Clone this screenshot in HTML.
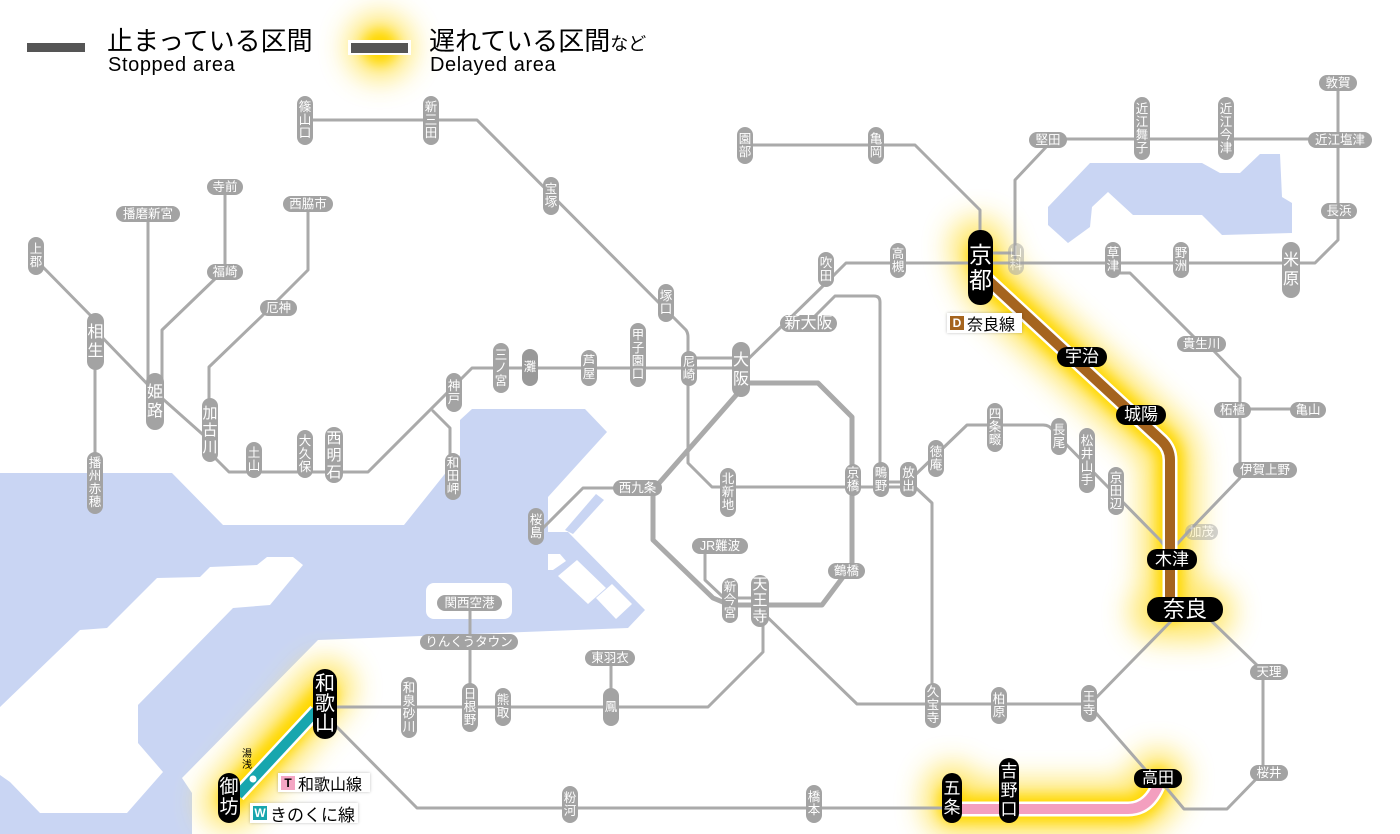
<!DOCTYPE html>
<html><head><meta charset="utf-8">
<style>
html,body{margin:0;padding:0;background:#fff;}
#w{position:relative;width:1400px;height:834px;overflow:hidden;background:#fff;font-family:"Liberation Sans","Noto Sans CJK JP",sans-serif;}
svg{position:absolute;left:0;top:0;}
.s{position:absolute;display:flex;align-items:center;justify-content:center;text-align:center;color:#fff;background:#a3a3a3;border-radius:8px;font-size:12.5px;line-height:13px;white-space:nowrap;}
.B{font-size:16px;line-height:19px;border-radius:9px;}
.k{position:absolute;display:flex;align-items:center;justify-content:center;text-align:center;color:#fff;background:#000;border-radius:11px;white-space:nowrap;}
.f{opacity:.5;}
.t{position:absolute;white-space:nowrap;color:#000;}
.lg{position:absolute;background:#fff;box-shadow:0 0 3px rgba(0,0,0,.25);display:flex;align-items:center;white-space:nowrap;color:#000;}
.sq{display:inline-flex;align-items:center;justify-content:center;width:14px;height:14px;font-size:12px;font-weight:bold;margin:0 3px 0 3px;}
</style></head><body><div id="w">
<svg width="1400" height="834" viewBox="0 0 1400 834">
<defs>
<filter id="bl" filterUnits="userSpaceOnUse" x="0" y="0" width="1400" height="834"><feGaussianBlur stdDeviation="14"/></filter>
<filter id="bl2" filterUnits="userSpaceOnUse" x="0" y="0" width="1400" height="834"><feGaussianBlur stdDeviation="6"/></filter>
</defs>
<!-- sea -->
<path d="M0,473 H172 L223,525 H404 L460,455 V420 L472,409 H585 L607,432 L548,497 V532 H568 L645,610 L628,628 L318,640 L182,778 L192,793 V834 H0 Z" fill="#c9d5f3"/>
<path d="M0,707 L80,630 L107,628 L157,578 L200,577 L210,567 L257,565 L267,557 L293,557 L303,565 L270,605 L233,608 L138,705 V743 L163,772 L127,813 H40 L10,782 L0,775 Z" fill="#fff"/>
<rect x="426" y="583" width="86" height="36" rx="8" fill="#fff"/>
<path d="M596,494 L604,500 L573,534 L565,530 Z" fill="#c9d5f3"/>
<path d="M548,554 L560,554 L566,561 L553,570 L548,570 Z" fill="#fff"/>
<path d="M558,576 L577,560 L606,588 L588,604 Z" fill="#fff"/>
<path d="M596,598 L612,584 L632,604 L616,619 Z" fill="#fff"/>
<!-- lake biwa -->
<path d="M1090,163 L1202,163 L1220,173 L1240,173 L1260,154 L1280,154 L1282,197 L1292,203 L1292,233 L1222,235 L1202,215 L1133,215 L1108,192 L1092,207 L1090,227 L1068,243 L1048,225 L1048,207 Z" fill="#c9d5f3"/>
<!-- glow outer -->
<g filter="url(#bl)" fill="none" stroke="#ffe45a" stroke-linecap="round" stroke-linejoin="round" stroke-width="56" opacity="0.9">
<path d="M978,246 L990,282 L1162,441 Q1170,449 1170,460 V612"/>
<path d="M1158,612 H1205"/>
<path d="M326,688 L230,802"/>
<path d="M952,792 V809 H1128 Q1148,809 1158,778"/>
<circle cx="380" cy="47" r="16" fill="#ffe45a" stroke-width="34"/>
</g>
<!-- glow core -->
<g filter="url(#bl2)" fill="none" stroke="#ffd800" stroke-linecap="round" stroke-linejoin="round" stroke-width="26">
<path d="M980,255 L990,282 L1162,441 Q1170,449 1170,460 V610"/>
<path d="M324,695 L232,798"/>
<path d="M952,798 V809 H1128 Q1148,809 1158,780"/>
<circle cx="380" cy="47" r="12" fill="#ffd800" stroke-width="10"/>
</g>
<!-- grey lines -->
<g stroke="#aaa" stroke-width="3" fill="none" stroke-linejoin="round" stroke-linecap="round">
<path d="M305,120 H477 L686,330 Q688,333 688,337 V463 L712,487 H915 L932,503 V705"/>
<path d="M36,260 L95,320"/>
<path d="M95,330 L155,392 L209,440 V452 L229,472 H368 L462,378 L472,368 H741"/>
<path d="M433,411 L450,428 V478"/>
<path d="M95,342 V485"/>
<path d="M148,214 V400"/>
<path d="M225,186 V271"/>
<path d="M218,276 L162,330 V400"/>
<path d="M308,204 V270 L263,315 L209,367 V430"/>
<path d="M688,358 H741"/>
<path d="M745,145 H915 L980,210 V268"/>
<path d="M741,366 L826,283 L846,263 H1315 L1338,240 V83"/>
<path d="M993,253 H1015"/>
<path d="M808,323 L835,296 H874 Q880,296 880,302 V487"/>
<path d="M637,488 H583 L540,531"/>
<path d="M705,546 V580 L722,596"/>
<path d="M763,600 V652 L708,707 H330"/>
<path d="M760,610 L857,704 H1090"/>
<path d="M880,482 H910"/>
<path d="M730,598 H760"/>
<path d="M912,478 L967,425 H1043 Q1050,425 1053,431 L1160,540 L1172,556"/>
<path d="M1015,258 V180 L1048,145 L1054,139 H1340"/>
<path d="M1113,273 H1130 L1200,343 L1213,350 L1240,378 V478 L1188,532 L1170,552"/>
<path d="M1232,409 H1305"/>
<path d="M1180,612 L1089,705"/>
<path d="M1200,610 L1263,671 V772 L1227,809 H1184 L1158,778"/>
<path d="M1089,705 L1150,775"/>
<path d="M470,707 V602"/>
<path d="M611,707 V657"/>
<path d="M330,720 L417,808 H952"/>
<path d="M741,383 H818 L852,417 V565 L822,605 H730 L713,598 L653,540 V490 L738,393" stroke-width="5"/>
</g>
<!-- colored bands -->
<g fill="none" stroke-linejoin="round">
<path d="M988,280 L1162,441 Q1170,449 1170,460 V606" stroke="#fff" stroke-width="15"/>
<path d="M988,280 L1162,441 Q1170,449 1170,460 V606" stroke="#a5641e" stroke-width="10"/>
<path d="M238,795 L316,711" stroke="#fff" stroke-width="15"/>
<path d="M238,795 L316,711" stroke="#17a6ae" stroke-width="10"/>
<path d="M958,809 H1128 Q1148,809 1158,786" stroke="#fff" stroke-width="15"/>
<path d="M958,809 H1128 Q1148,809 1158,786" stroke="#f39fbf" stroke-width="10"/>
</g>
<circle cx="253" cy="779" r="3.5" fill="#fff"/>
<!-- legend bars -->
<rect x="27" y="43" width="58" height="9" fill="#555"/>
<rect x="348" y="40" width="63" height="15" fill="#fff"/>
<rect x="351" y="43" width="57" height="10" fill="#555"/>
</svg>

<!-- top legend text -->
<div class="t" style="left:107px;top:27px;font-size:26px;line-height:28px;">止まっている区間</div>
<div class="t" style="left:108px;top:54px;font-size:20px;line-height:22px;letter-spacing:0.6px;">Stopped area</div>
<div class="t" style="left:429px;top:27px;font-size:26px;line-height:28px;">遅れている区間<span style="font-size:18px;">など</span></div>
<div class="t" style="left:430px;top:54px;font-size:20px;line-height:22px;letter-spacing:0.6px;">Delayed area</div>

<!-- small vertical grey -->
<div class="s" style="left:297px;top:96px;width:16px;height:49px">篠<br>山<br>口</div>
<div class="s" style="left:423px;top:96px;width:16px;height:49px">新<br>三<br>田</div>
<div class="s" style="left:28px;top:237px;width:16px;height:38px">上<br>郡</div>
<div class="s" style="left:87px;top:452px;width:16px;height:62px">播<br>州<br>赤<br>穂</div>
<div class="s" style="left:246px;top:442px;width:16px;height:36px">土<br>山</div>
<div class="s" style="left:297px;top:430px;width:16px;height:48px">大<br>久<br>保</div>
<div class="s" style="left:446px;top:373px;width:16px;height:39px">神<br>戸</div>
<div class="s" style="left:445px;top:453px;width:16px;height:47px">和<br>田<br>岬</div>
<div class="s" style="left:543px;top:177px;width:16px;height:38px">宝<br>塚</div>
<div class="s" style="left:658px;top:284px;width:16px;height:38px">塚<br>口</div>
<div class="s" style="left:681px;top:351px;width:16px;height:35px">尼<br>崎</div>
<div class="s" style="left:630px;top:323px;width:16px;height:64px">甲<br>子<br>園<br>口</div>
<div class="s" style="left:581px;top:350px;width:16px;height:36px">芦<br>屋</div>
<div class="s" style="left:522px;top:349px;width:16px;height:37px;background:#999">灘</div>
<div class="s" style="left:493px;top:343px;width:16px;height:50px">三<br>ノ<br>宮</div>
<div class="s" style="left:737px;top:127px;width:16px;height:37px">園<br>部</div>
<div class="s" style="left:868px;top:127px;width:16px;height:37px">亀<br>岡</div>
<div class="s" style="left:818px;top:252px;width:16px;height:35px">吹<br>田</div>
<div class="s" style="left:890px;top:243px;width:16px;height:35px">高<br>槻</div>
<div class="s" style="left:720px;top:468px;width:16px;height:49px">北<br>新<br>地</div>
<div class="s" style="left:528px;top:508px;width:16px;height:37px">桜<br>島</div>
<div class="s" style="left:722px;top:578px;width:16px;height:45px">新<br>今<br>宮</div>
<div class="s" style="left:845px;top:464px;width:16px;height:32px">京<br>橋</div>
<div class="s" style="left:873px;top:462px;width:16px;height:35px">鴫<br>野</div>
<div class="s" style="left:900px;top:462px;width:17px;height:35px">放<br>出</div>
<div class="s" style="left:928px;top:440px;width:16px;height:37px">徳<br>庵</div>
<div class="s" style="left:987px;top:403px;width:16px;height:49px">四<br>条<br>畷</div>
<div class="s" style="left:1051px;top:418px;width:16px;height:37px">長<br>尾</div>
<div class="s" style="left:1079px;top:428px;width:16px;height:65px">松<br>井<br>山<br>手</div>
<div class="s" style="left:1108px;top:467px;width:16px;height:48px">京<br>田<br>辺</div>
<div class="s f" style="left:1008px;top:243px;width:16px;height:32px">山<br>科</div>
<div class="s" style="left:1134px;top:97px;width:16px;height:63px">近<br>江<br>舞<br>子</div>
<div class="s" style="left:1218px;top:97px;width:16px;height:63px">近<br>江<br>今<br>津</div>
<div class="s" style="left:1105px;top:242px;width:16px;height:36px">草<br>津</div>
<div class="s" style="left:1173px;top:242px;width:16px;height:36px">野<br>洲</div>
<div class="s" style="left:401px;top:677px;width:16px;height:61px">和<br>泉<br>砂<br>川</div>
<div class="s" style="left:462px;top:683px;width:16px;height:49px">日<br>根<br>野</div>
<div class="s" style="left:495px;top:688px;width:16px;height:38px">熊<br>取</div>
<div class="s" style="left:603px;top:688px;width:16px;height:38px">鳳</div>
<div class="s" style="left:562px;top:786px;width:16px;height:37px">粉<br>河</div>
<div class="s" style="left:925px;top:683px;width:16px;height:45px">久<br>宝<br>寺</div>
<div class="s" style="left:991px;top:687px;width:16px;height:37px">柏<br>原</div>
<div class="s" style="left:1081px;top:685px;width:16px;height:37px">王<br>寺</div>
<div class="s" style="left:806px;top:785px;width:16px;height:38px">橋<br>本</div>

<!-- small horizontal grey -->
<div class="s" style="left:116px;top:206px;width:64px;height:16px">播磨新宮</div>
<div class="s" style="left:207px;top:179px;width:36px;height:16px">寺前</div>
<div class="s" style="left:207px;top:264px;width:36px;height:16px">福崎</div>
<div class="s" style="left:283px;top:196px;width:50px;height:16px">西脇市</div>
<div class="s" style="left:260px;top:300px;width:37px;height:16px">厄神</div>
<div class="s" style="left:613px;top:480px;width:49px;height:16px">西九条</div>
<div class="s" style="left:692px;top:538px;width:56px;height:16px">JR難波</div>
<div class="s" style="left:828px;top:563px;width:37px;height:16px">鶴橋</div>
<div class="s" style="left:1029px;top:132px;width:38px;height:16px">堅田</div>
<div class="s" style="left:1308px;top:132px;width:64px;height:16px">近江塩津</div>
<div class="s" style="left:1319px;top:75px;width:38px;height:16px">敦賀</div>
<div class="s" style="left:1321px;top:203px;width:36px;height:16px">長浜</div>
<div class="s" style="left:1177px;top:336px;width:49px;height:16px">貴生川</div>
<div class="s" style="left:1214px;top:402px;width:37px;height:16px">柘植</div>
<div class="s" style="left:1290px;top:402px;width:36px;height:16px">亀山</div>
<div class="s" style="left:1233px;top:462px;width:64px;height:16px">伊賀上野</div>
<div class="s f" style="left:1185px;top:524px;width:33px;height:16px">加茂</div>
<div class="s" style="left:1250px;top:664px;width:38px;height:16px">天理</div>
<div class="s" style="left:1250px;top:765px;width:38px;height:16px">桜井</div>
<div class="s" style="left:437px;top:595px;width:65px;height:16px">関西空港</div>
<div class="s" style="left:420px;top:634px;width:98px;height:16px">りんくうタウン</div>
<div class="s" style="left:585px;top:650px;width:50px;height:16px">東羽衣</div>

<!-- big grey -->
<div class="s B" style="left:87px;top:313px;width:17px;height:57px">相<br>生</div>
<div class="s B" style="left:146px;top:373px;width:18px;height:57px">姫<br>路</div>
<div class="s B" style="left:202px;top:398px;width:16px;height:64px;font-size:15px;line-height:17px">加<br>古<br>川</div>
<div class="s B" style="left:325px;top:427px;width:18px;height:56px;font-size:15px;line-height:17px">西<br>明<br>石</div>
<div class="s B" style="left:732px;top:342px;width:18px;height:55px">大<br>阪</div>
<div class="s B" style="left:751px;top:575px;width:18px;height:52px;font-size:15px;line-height:16px">天<br>王<br>寺</div>
<div class="s B" style="left:1282px;top:242px;width:18px;height:56px">米<br>原</div>
<div class="s B" style="left:780px;top:315px;width:57px;height:17px">新大阪</div>

<!-- black stations -->
<div class="k" style="left:968px;top:230px;width:25px;height:75px;border-radius:12px;font-size:23px;line-height:25px">京<br>都</div>
<div class="k" style="left:1057px;top:347px;width:50px;height:20px;border-radius:10px;font-size:17px;line-height:20px">宇治</div>
<div class="k" style="left:1116px;top:405px;width:50px;height:20px;border-radius:10px;font-size:17px;line-height:20px">城陽</div>
<div class="k" style="left:1147px;top:549px;width:50px;height:21px;border-radius:10px;font-size:17px;line-height:21px">木津</div>
<div class="k" style="left:1147px;top:597px;width:76px;height:25px;border-radius:12px;font-size:22px;line-height:25px">奈良</div>
<div class="k" style="left:1134px;top:769px;width:48px;height:19px;border-radius:9px;font-size:16px;line-height:19px">高田</div>
<div class="k" style="left:999px;top:758px;width:20px;height:65px;border-radius:10px;font-size:17px;line-height:19px">吉<br>野<br>口</div>
<div class="k" style="left:942px;top:773px;width:20px;height:50px;border-radius:10px;font-size:17px;line-height:19px">五<br>条</div>
<div class="k" style="left:313px;top:669px;width:24px;height:70px;border-radius:12px;font-size:20px;line-height:20px">和<br>歌<br>山</div>
<div class="k" style="left:218px;top:773px;width:22px;height:50px;border-radius:11px;font-size:19px;line-height:20px">御<br>坊</div>

<!-- line legends -->
<div class="lg" style="left:947px;top:313px;width:75px;height:20px;font-size:16px;"><span class="sq" style="background:#a5641e;color:#fff">D</span>奈良線</div>
<div class="lg" style="left:278px;top:773px;width:92px;height:19px;font-size:16px;"><span class="sq" style="background:#f4a6c4;color:#000">T</span>和歌山線</div>
<div class="lg" style="left:250px;top:803px;width:108px;height:20px;font-size:17px;"><span class="sq" style="background:#17a6ae;color:#fff">W</span>きのくに線</div>
<div class="t" style="left:241px;top:749px;width:12px;font-size:10px;line-height:11px;text-align:center;">湯<br>浅</div>
</div></body></html>
